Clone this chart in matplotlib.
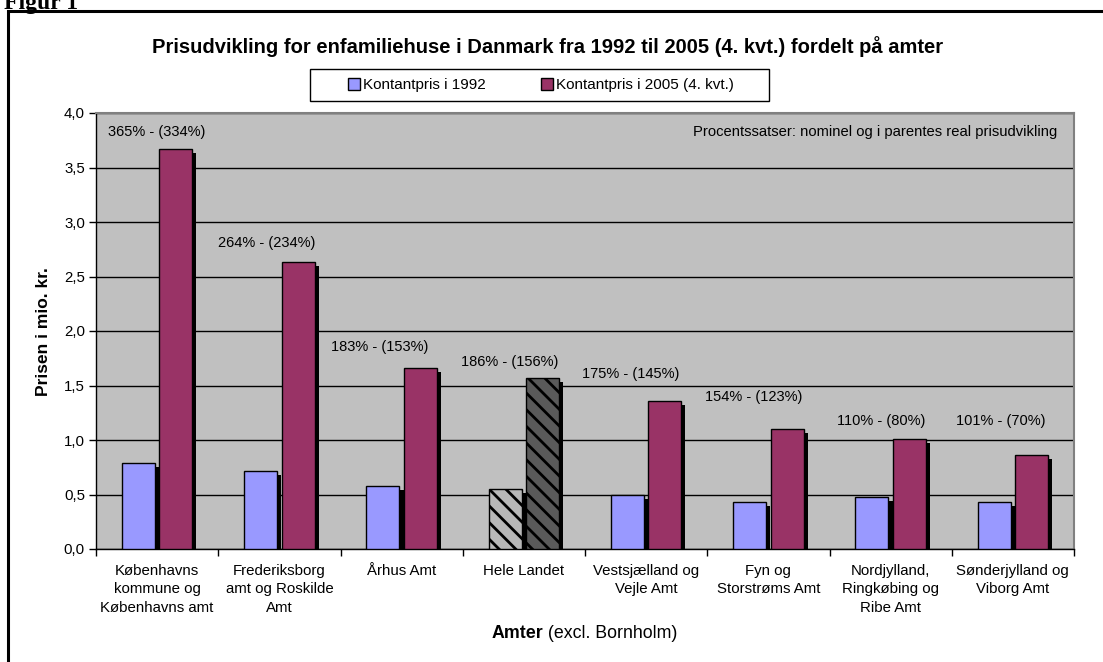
import matplotlib
matplotlib.use("Agg")
import matplotlib.pyplot as plt
import matplotlib.patheffects as pe
from matplotlib.patches import Patch, Rectangle
import numpy as np

plt.rcParams['font.family'] = ['Liberation Sans', 'DejaVu Sans']
plt.rcParams['hatch.linewidth'] = 2.0

categories = [
    "Københavns\nkommune og\nKøbenhavns amt",
    "Frederiksborg\namt og Roskilde\nAmt",
    "Århus Amt",
    "Hele Landet",
    "Vestsjælland og\nVejle Amt",
    "Fyn og\nStorstrøms Amt",
    "Nordjylland,\nRingkøbing og\nRibe Amt",
    "Sønderjylland og\nViborg Amt",
]
price_1992 = [0.79, 0.72, 0.58, 0.55, 0.495, 0.43, 0.48, 0.43]
price_2005 = [3.67, 2.63, 1.66, 1.57, 1.36, 1.10, 1.01, 0.86]
growth_labels = ["365% - (334%)", "264% - (234%)", "183% - (153%)", "186% - (156%)",
                 "175% - (145%)", "154% - (123%)", "110% - (80%)", "101% - (70%)"]
series_names = ["Kontantpris i 1992", "Kontantpris i 2005 (4. kvt.)"]
yticks = [0.0, 0.5, 1.0, 1.5, 2.0, 2.5, 3.0, 3.5, 4.0]

# label placement (styling, not data)
label_y = [3.83, 2.81, 1.85, 1.72, 1.61, 1.39, 1.17, 1.17]
label_dx = [0.0, -0.10, -0.18, -0.12, -0.13, -0.12, -0.08, -0.10]

W, H = 1103, 662
fig = plt.figure(figsize=(W / 100, H / 100), dpi=100)
fig.patch.set_facecolor('white')

# outer frame
fig.add_artist(Rectangle((8 / W, -0.05), 1.2, 1 - 11 / H + 0.05, transform=fig.transFigure,
                         fill=False, edgecolor='black', linewidth=2.2, zorder=0))
fig.text(4 / W, 1 - 9 / H, "Figur 1", fontsize=17, fontweight='bold',
         family=['Liberation Serif', 'DejaVu Serif'], ha='left', va='baseline')

ax = fig.add_axes([96 / W, 1 - 549 / H, (1074 - 96) / W, (549 - 113) / H])
ax.set_facecolor('#C0C0C0')

n = len(categories)
x = np.arange(n) + 0.5
bw = 0.27
off = 0.153
c1 = ['#9999FF'] * n
c2 = ['#993366'] * n
hl = categories.index("Hele Landet")
c1[hl] = '#B8B8B8'
c2[hl] = '#5A5A5A'
shadow = [pe.SimplePatchShadow(offset=(3, -3), shadow_rgbFace='black', alpha=1.0), pe.Normal()]

b1 = ax.bar(x - off, price_1992, bw, color=c1, edgecolor='black', linewidth=1.0, zorder=3)
b2 = ax.bar(x + off, price_2005, bw, color=c2, edgecolor='black', linewidth=1.0, zorder=3)
for b in list(b1) + list(b2):
    b.set_path_effects(shadow)
b1[hl].set_hatch('\\\\')
b2[hl].set_hatch('\\\\')

for i, lab in enumerate(growth_labels):
    ax.text(x[i] + label_dx[i], label_y[i], lab, ha='center', va='center', fontsize=10.5, zorder=5)

ax.text(n - 0.14, 3.83, "Procentssatser: nominel og i parentes real prisudvikling",
        fontsize=10.6, ha='right', va='center')

ax.set_xlim(0, n)
ax.set_ylim(0, 4.0)
ax.set_yticks(yticks)
ax.set_yticklabels([f"{v:.1f}".replace('.', ',') for v in yticks], fontsize=10.8)
ax.yaxis.grid(True, color='black', linewidth=1.0, zorder=1)
ax.set_axisbelow(True)
ax.tick_params(axis='y', direction='out', length=5, width=1, color='black', pad=3)

ax.set_xticks(x)
ax.set_xticklabels(categories, fontsize=10.8, linespacing=1.38)
ax.set_xticks(np.arange(n + 1), minor=True)
ax.tick_params(axis='x', which='major', length=0, pad=11)
ax.tick_params(axis='x', which='minor', direction='out', length=5, width=1, color='black')

for s in ['top', 'right']:
    ax.spines[s].set_color('#808080')
    ax.spines[s].set_linewidth(1.5)
for s in ['left', 'bottom']:
    ax.spines[s].set_color('black')
    ax.spines[s].set_linewidth(1.0)

fig.text(44 / W, 1 - 332 / H, "Prisen i mio. kr.", fontsize=12.5, fontweight='bold',
         rotation=90, ha='center', va='center')

fig.text(543 / W, 1 - 633 / H, "Amter", fontsize=12.8, fontweight='bold', ha='right', va='center')
fig.text(543 / W, 1 - 633 / H, " (excl. Bornholm)", fontsize=12.8, ha='left', va='center')

fig.text(548 / W, 1 - 47 / H,
         "Prisudvikling for enfamiliehuse i Danmark fra 1992 til 2005 (4. kvt.) fordelt på amter",
         fontsize=14.5, fontweight='bold', ha='center', va='center')

# legend box
fig.add_artist(Rectangle((310 / W, 1 - 101 / H), 459 / W, 32 / H, transform=fig.transFigure,
                         facecolor='white', edgecolor='black', linewidth=1.0, zorder=4))
handles = [Patch(facecolor='#9999FF', edgecolor='black', linewidth=1.0),
           Patch(facecolor='#993366', edgecolor='black', linewidth=1.0)]
leg = fig.legend(handles, series_names, loc='center', ncol=2,
                 bbox_to_anchor=(541 / W, 1 - 85 / H), fontsize=11, frameon=False,
                 handlelength=0.8, handleheight=0.8, handletextpad=0.2,
                 columnspacing=3.6, borderpad=0.3)
leg.set_zorder(5)

fig.savefig("out.png", dpi=100, facecolor='white')
